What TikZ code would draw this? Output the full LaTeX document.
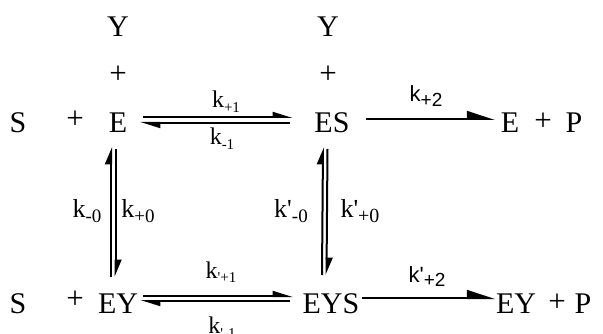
\documentclass[tikz,border=0pt]{standalone}
\usepackage{fontspec}
\setmainfont{Liberation Serif}
\setsansfont{Liberation Sans}
\usetikzlibrary{arrows.meta}
\newcommand{\lo}[2]{\raisebox{-5pt}{\fontsize{#1}{#1}\selectfont #2}}

\begin{document}
\begin{tikzpicture}[x=1pt, y=-1pt, every node/.style={inner sep=0pt}]
  \tikzset{
    chem/.style={anchor=base, font=\fontsize{30}{34}\selectfont},
    pl/.style={font=\fontsize{31}{34}\selectfont},
    rate/.style={anchor=base, font=\fontsize{24}{28}\selectfont},
    vrate/.style={anchor=base, font=\fontsize{26}{30}\selectfont},
    srate/.style={anchor=base, font=\sffamily\fontsize{22}{26}\selectfont},
    harp/.style={line width=2pt, -{Triangle[harpoon, length=17pt, width=10pt]}},
    vharp/.style={line width=2pt, -{Triangle[harpoon, length=15pt, width=12pt]}},
    onearr/.style={line width=2pt, -{Triangle[harpoon, length=25pt, width=16pt]}}
  }
  \useasboundingbox (0,0) rectangle (603,334);
  \node[chem] (yA)  at (118,37)  {Y};
  \node[pl]   (ypA) at (118,75)  {+};
  \node[chem] (sA)  at (18,133)  {S};
  \node[pl]   (spA) at (75,120)  {+};
  \node[chem] (e)   at (118,133) {E};
  \node[chem] (yB)  at (328,37)  {Y};
  \node[pl]   (ypB) at (328,75)  {+};
  \node[chem] (es)  at (332,133) {ES};
  \node[chem] (eP)  at (510,133) {E};
  \node[pl]   (epl) at (543,122) {+};
  \node[chem] (pA)  at (574,133) {P};
  \node[chem] (sB)  at (18,313)  {S};
  \node[pl]   (spB) at (75,300)  {+};
  \node[chem] (ey)  at (118,313) {EY};
  \node[chem] (eys) at (331,313) {EYS};
  \node[chem] (eyP) at (516,313) {EY};
  \node[pl]   (eypl) at (557,303) {+};
  \node[chem] (pB)  at (583,313) {P};

  \node[rate]  (kp1)  at (226,108) {k\lo{15}{+1}};
  \node[rate]  (km1)  at (222,145) {k\lo{15}{-1}};
  \node[rate]  (kqp1) at (221,278) {k\lo{15}{\textquotesingle+1}};
  \node[rate]  (kqm1) at (222,333) {k\lo{15}{\textquotesingle-1}};
  \node[vrate] (km0)  at (87,218)  {k\lo{19}{-0}};
  \node[vrate] (kp0)  at (138,218) {k\lo{19}{+0}};
  \node[vrate] (kqm0) at (291,218) {k\textquotesingle\lo{19}{-0}};
  \node[vrate] (kqp0) at (360,218) {k\textquotesingle\lo{20}{+0}};
  \node[srate] (kp2)  at (426,102) {k\lo{19}{+2}};
  \node[srate] (kqp2) at (427,282) {k\textquotesingle\lo{19}{+2}};

  \draw[harp] ([xshift=25pt,yshift=16pt]e.base) -- ([xshift=-39pt,yshift=16pt]es.base);
  \draw[harp] ([xshift=-42pt,yshift=10pt]es.base) -- ([xshift=22pt,yshift=10pt]e.base);
  \draw[harp] ([xshift=25pt,yshift=17pt]ey.base) -- ([xshift=-38pt,yshift=17pt]eys.base);
  \draw[harp] ([xshift=-41pt,yshift=12pt]eys.base) -- ([xshift=22pt,yshift=12pt]ey.base);
  \draw[vharp] ([xshift=-7pt,yshift=36pt]ey.base) -- ([xshift=-7pt,yshift=-14pt]e.base);
  \draw[vharp] ([xshift=-2.5pt,yshift=-16pt]e.base) -- ([xshift=-2.5pt,yshift=36pt]ey.base);
  \draw[vharp] ([xshift=-9pt,yshift=38pt]eys.base) -- ([xshift=-9pt,yshift=-14pt]es.base);
  \draw[vharp] ([xshift=-4.5pt,yshift=-16pt]es.base) -- ([xshift=-4.5pt,yshift=38pt]eys.base);
  \draw[onearr] ([xshift=34pt,yshift=14pt]es.base) -- ([xshift=-15pt,yshift=14pt]eP.base);
  \draw[onearr] ([xshift=31pt,yshift=15pt]eys.base) -- ([xshift=-21pt,yshift=15pt]eyP.base);
\end{tikzpicture}
\end{document}
